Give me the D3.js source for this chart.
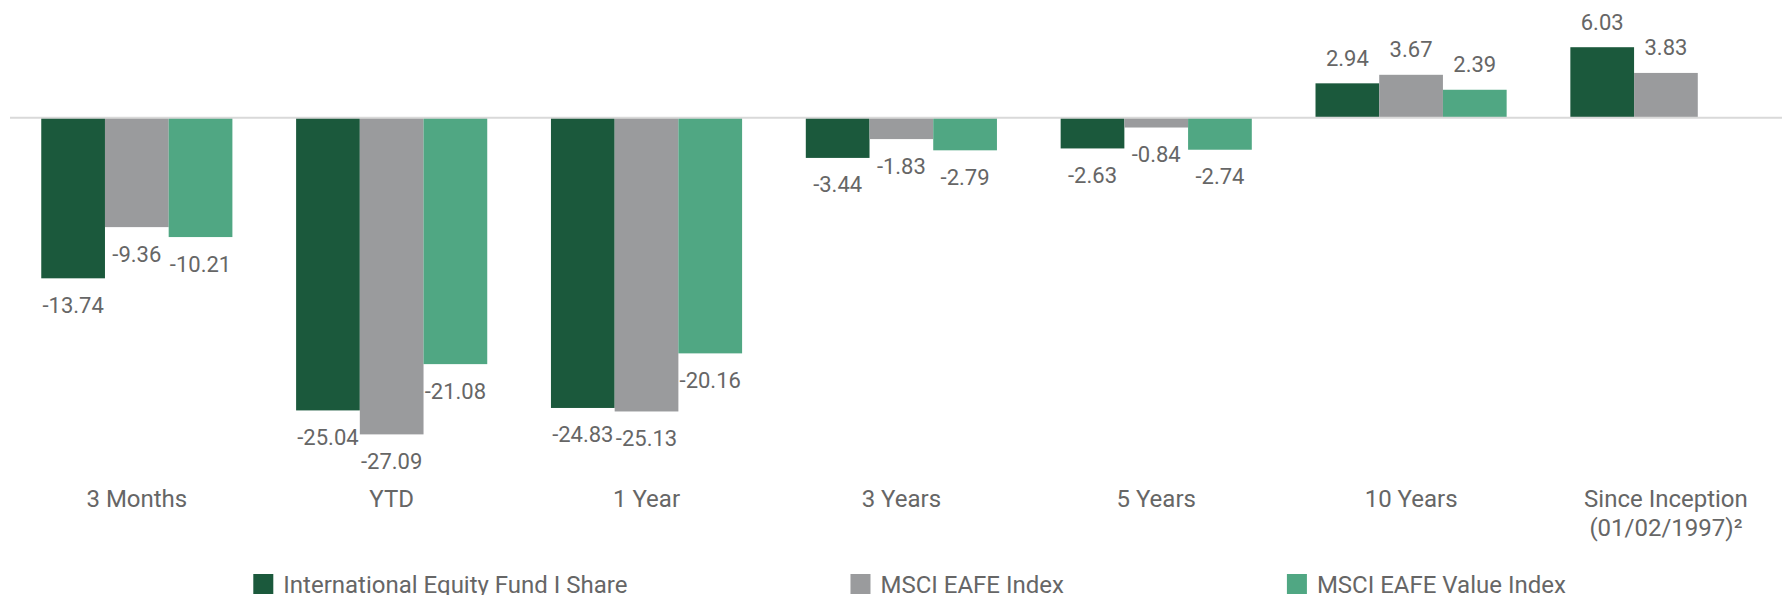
<!DOCTYPE html>
<html>
<head>
<meta charset="utf-8">
<script src="https://cdnjs.cloudflare.com/ajax/libs/d3/7.8.5/d3.min.js"></script>
<style>
  body { margin: 0; background: #fff; overflow: hidden; }
  text { font-family: Roboto, "Noto Sans", sans-serif; fill: #666; }
</style>
</head>
<body>
<div id="chart-area"></div>
<script>
// periods and series
var periods = ["3 Months", "YTD", "1 Year", "3 Years", "5 Years", "10 Years", "Since Inception\n(01/02/1997)²"];
var seriesNames = ["International Equity Fund I Share", "MSCI EAFE Index", "MSCI EAFE Value Index"];
var fundValues = [-13.74, -25.04, -24.83, -3.44, -2.63, 2.94, 6.03];
var eafeValues = [-9.36, -27.09, -25.13, -1.83, -0.84, 3.67, 3.83];
var valueIdxValues = [-10.21, -21.08, -20.16, -2.79, -2.74, 2.39, null];
var colors = ["#1b593c", "#9a9b9d", "#50a783"];

var width = 1782, height = 595;

var svg = d3.select("#chart-area")
    .append("svg")
    .attr("width", width)
    .attr("height", height);

var series = [fundValues, eafeValues, valueIdxValues];
var data = [];
periods.forEach(function (p, i) {
    series.forEach(function (s, j) {
        if (s[i] !== null) data.push({ period: p, key: seriesNames[j], value: s[i], color: colors[j] });
    });
});

var step = 254.85;
var x0 = d3.scaleBand()
    .domain(periods)
    .range([9.4, 9.4 + step * periods.length])
    .paddingInner(0.25)
    .paddingOuter(0.125);

var x1 = d3.scaleBand()
    .domain(seriesNames)
    .range([0, x0.bandwidth()]);

var y = d3.scaleLinear()
    .domain([-30, 10])
    .range([468.4, 0.8]);

// bars
svg.append("g").selectAll("rect")
    .data(data)
    .enter()
    .append("rect")
    .attr("x", d => x0(d.period) + x1(d.key))
    .attr("y", d => y(Math.max(0, d.value)))
    .attr("width", x1.bandwidth())
    .attr("height", d => Math.abs(y(d.value) - y(0)))
    .attr("fill", d => d.color);

// zero line
svg.append("line")
    .attr("x1", 10)
    .attr("x2", width)
    .attr("y1", y(0))
    .attr("y2", y(0))
    .attr("stroke", "#d9d9d9")
    .attr("stroke-width", 2);

// value labels
svg.append("g").selectAll("text")
    .data(data)
    .enter()
    .append("text")
    .attr("x", d => x0(d.period) + x1(d.key) + x1.bandwidth() / 2)
    .attr("y", d => d.value < 0 ? y(d.value) + 34.5 : y(d.value) - 17.5)
    .attr("text-anchor", "middle")
    .attr("style", "font-size: 22px")
    .text(d => d.value.toFixed(2));

// category axis
var xAxisCall = d3.axisBottom(x0).tickSize(0).tickPadding(0);
var xAxis = svg.append("g")
    .attr("transform", "translate(0, 507)")
    .call(xAxisCall);
xAxis.select(".domain").remove();
xAxis.selectAll("text")
    .attr("y", 0)
    .attr("dy", 0)
    .attr("fill", "#666")
    .attr("style", "font-size: 24px; font-family: Roboto, sans-serif")
    .each(function (d) {
        var lines = d.split("\n");
        var t = d3.select(this).text(null);
        lines.forEach(function (line, i) {
            t.append("tspan")
                .attr("x", 0)
                .attr("dy", i === 0 ? 0 : 29)
                .text(line);
        });
    });

// legend
var legend = svg.append("g").attr("transform", "translate(253.3, 574)");
var lx = 0;
seriesNames.forEach(function (name, i) {
    var item = legend.append("g").attr("transform", "translate(" + lx + ",0)");
    item.append("rect")
        .attr("width", 20)
        .attr("height", 20)
        .attr("fill", colors[i]);
    var t = item.append("text")
        .attr("x", 30)
        .attr("y", 19)
        .attr("style", "font-size: 24px")
        .text(name);
    lx += 30 + t.node().getComputedTextLength() + 223;
});
</script>
</body>
</html>
